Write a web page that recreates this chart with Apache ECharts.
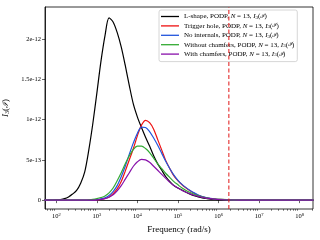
<!DOCTYPE html>
<html><head><meta charset="utf-8">
<script src="https://cdn.jsdelivr.net/npm/echarts@6/dist/echarts.min.js"></script>
<style>html,body{margin:0;padding:0;background:#fff}#c{width:320px;height:240px}</style>
</head><body><div id="c"></div>
<script>
// Frequencies (rad/s), log-spaced grid
const freq = [50.1, 63.1, 79.4,
  100, 125.9, 158.5, 199.5, 251.2, 316.2, 398.1, 501.2, 631, 794.3,
  1000, 1259, 1585, 1995, 2512, 3162, 3981, 5012, 6310, 7943,
  10000, 12590, 15850, 19950, 25120, 31620, 39810, 50120, 63100, 79430,
  100000, 125900, 158500, 199500, 251200, 316200, 398100, 501200, 631000, 794300,
  1000000, 3162000, 10000000, 100000000, 220000000];
// values in units of 1e-12
const lShape = [0, 0, 0.001,
  0.003, 0.008, 0.018, 0.04, 0.075, 0.12, 0.21, 0.35, 0.62, 0.95,
  1.33, 1.72, 2.04, 2.26, 2.21, 2.08, 1.90, 1.67, 1.42, 1.19,
  1.03, 0.90, 0.78, 0.67, 0.55, 0.45, 0.37, 0.29, 0.23, 0.18,
  0.15, 0.125, 0.098, 0.075, 0.055, 0.04, 0.028, 0.02, 0.013, 0.009,
  0.006, 0.001, 0, 0, 0];
const triggerHole = [0, 0, 0,
  0, 0, 0, 0, 0, 0, 0, 0, 0, 0.001,
  0.004, 0.01, 0.02, 0.04, 0.08, 0.14, 0.23, 0.36, 0.50, 0.64,
  0.80, 0.93, 0.99, 0.96, 0.88, 0.75, 0.62, 0.49, 0.39, 0.30,
  0.24, 0.19, 0.15, 0.115, 0.085, 0.06, 0.042, 0.029, 0.02, 0.013,
  0.009, 0.001, 0, 0, 0];
const noInternals = [0, 0, 0,
  0, 0, 0, 0, 0, 0, 0, 0, 0, 0.002,
  0.006, 0.015, 0.03, 0.058, 0.105, 0.18, 0.29, 0.42, 0.57, 0.71,
  0.83, 0.905, 0.90, 0.85, 0.77, 0.68, 0.58, 0.48, 0.39, 0.31,
  0.245, 0.195, 0.155, 0.12, 0.09, 0.064, 0.045, 0.031, 0.021, 0.014,
  0.009, 0.001, 0, 0, 0];
const withoutChamfers = [0, 0, 0,
  0, 0, 0, 0, 0, 0, 0, 0.001, 0.004, 0.009,
  0.018, 0.032, 0.052, 0.09, 0.15, 0.24, 0.34, 0.45, 0.55, 0.63,
  0.67, 0.67, 0.64, 0.59, 0.52, 0.45, 0.39, 0.33, 0.28, 0.23,
  0.19, 0.15, 0.12, 0.095, 0.073, 0.055, 0.04, 0.029, 0.02, 0.014,
  0.01, 0.001, 0, 0, 0];
const withChamfers = [0, 0, 0,
  0, 0, 0, 0, 0, 0, 0, 0, 0, 0.001,
  0.004, 0.009, 0.019, 0.036, 0.066, 0.115, 0.18, 0.26, 0.34, 0.42,
  0.475, 0.505, 0.50, 0.47, 0.42, 0.37, 0.32, 0.27, 0.22, 0.18,
  0.15, 0.12, 0.097, 0.077, 0.06, 0.046, 0.034, 0.025, 0.018, 0.012,
  0.008, 0.001, 0, 0, 0];
const seriesNames = ['L-shape, PODP', 'Trigger hole, PODP', 'No internals, PODP', 'Without chamfers, PODP', 'With chamfers, PODP'];
const seriesValues = [lShape, triggerHole, noInternals, withoutChamfers, withChamfers];
const seriesColors = ['#000000', '#ee1111', '#2255dd', '#33aa33', '#8811aa'];
const UNIT = 1e-12;
const xTickValues = [1e2, 1e3, 1e4, 1e5, 1e6, 1e7, 1e8];
const xTickExponents = ['2', '3', '4', '5', '6', '7', '8'];
const yTickValues = [0, 5e-13, 1e-12, 1.5e-12, 2e-12];
const yTickLabels = ['0', '5e-13', '1e-12', '1.5e-12', '2e-12'];
const cutoffFreq = 1.8e6;
const X_MIN = 52.5, X_MAX = 2.14e8;
const Y_MIN = -1.1e-13, Y_MAX = 2.395e-12;

const minorTicks = [];
for (let e = 1; e <= 8; e++) for (let k = 2; k <= 9; k++) {
  const v = k * Math.pow(10, e);
  if (v > X_MIN && v < X_MAX) minorTicks.push(v);
}
const FONT = 'Liberation Serif';
const chart = echarts.init(document.getElementById('c'), null, {renderer: 'canvas'});
const series = seriesNames.map((n, i) => ({
  name: n, type: 'line', xAxisIndex: 0, yAxisIndex: 0,
  data: freq.map((f, j) => [f, seriesValues[i][j] * UNIT]),
  symbol: 'none', smooth: 0.3, color: seriesColors[i],
  lineStyle: {width: 1.2, color: seriesColors[i]}, z: 2 + i
}));
series.push({
  name: 'cutoff', type: 'line', xAxisIndex: 0, yAxisIndex: 0, silent: true, symbol: 'none', z: 10,
  data: [[cutoffFreq, Y_MIN], [cutoffFreq, Y_MAX]],
  lineStyle: {color: '#e01515', type: [4, 2.5], width: 1}
});
chart.setOption({
  animation: false,
  grid: {left: 45, right: 7, top: 7, bottom: 31, show: true, borderColor: '#000', borderWidth: 0.8,
    containLabel: false, outerBoundsMode: 'none'},
  xAxis: [{
    type: 'log', min: X_MIN, max: X_MAX, logBase: 10,
    name: 'Frequency (rad/s)', nameLocation: 'middle', nameGap: 15,
    nameTextStyle: {fontFamily: FONT, fontSize: 9, color: '#000'},
    axisLine: {show: true, lineStyle: {color: '#000', width: 0.8}},
    axisTick: {show: true, length: 3, lineStyle: {color: '#000', width: 0.6}, customValues: xTickValues},
    axisLabel: {show: true, customValues: xTickValues, margin: 3,
      formatter: (v) => { const i = xTickValues.findIndex(t => Math.abs(Math.log10(t) - Math.log10(v)) < 1e-6); return '10{s|' + xTickExponents[i] + '}'; },
      fontFamily: FONT, fontSize: 6.5, color: '#000',
      rich: {s: {fontFamily: FONT, fontSize: 4.5, color: '#000', padding: [0, 0, 4, 0]}}},
    splitLine: {show: false}
  }, {
    type: 'log', min: X_MIN, max: X_MAX, logBase: 10, position: 'bottom',
    axisLine: {show: false}, axisLabel: {show: false}, splitLine: {show: false},
    axisTick: {show: true, length: 1.8, lineStyle: {color: '#000', width: 0.5}, customValues: minorTicks}
  }],
  yAxis: {
    type: 'value', min: Y_MIN, max: Y_MAX,
    name: '{i|I}{s|3}({c|ℐ})', nameLocation: 'middle', nameGap: 35,
    nameTextStyle: {fontFamily: FONT, fontSize: 9, color: '#000',
      rich: {i: {fontFamily: FONT, fontStyle: 'italic', fontSize: 9, color: '#000'},
             s: {fontFamily: FONT, fontSize: 6, color: '#000', padding: [0, 0, -3, 0]},
             c: {fontFamily: 'DejaVu Serif', fontStyle: 'italic', fontSize: 8, color: '#000'}}},
    axisLine: {show: true, lineStyle: {color: '#000', width: 0.8}},
    axisTick: {show: true, length: 3, lineStyle: {color: '#000', width: 0.6}, customValues: yTickValues},
    axisLabel: {customValues: yTickValues, margin: 4,
      formatter: (v) => { const i = yTickValues.findIndex(t => Math.abs(t - v) < 1e-16); return yTickLabels[i]; },
      fontFamily: FONT, fontSize: 6.5, color: '#000'},
    splitLine: {show: false}
  },
  legend: {
    orient: 'vertical', left: 159, top: 10, padding: [3, 3, 4, 2],
    itemWidth: 18, itemHeight: 1.3, itemGap: 2.4, icon: 'rect',
    backgroundColor: 'rgba(255,255,255,0.85)', borderColor: '#cccccc', borderWidth: 0.8, borderRadius: 2,
    data: seriesNames,
    formatter: (n) => n + ', {i|N} = 13, {i|I}{s|3}({c|ℐ})',
    textStyle: {fontFamily: FONT, fontSize: 7, color: '#000', lineHeight: 7,
      rich: {i: {fontFamily: FONT, fontStyle: 'italic', fontSize: 7, color: '#000'},
             s: {fontFamily: FONT, fontSize: 5, color: '#000', padding: [0, 0, -2, 0]},
             c: {fontFamily: 'DejaVu Serif', fontStyle: 'italic', fontSize: 6, color: '#000'}}}
  },
  series: series
});
</script></body></html>
